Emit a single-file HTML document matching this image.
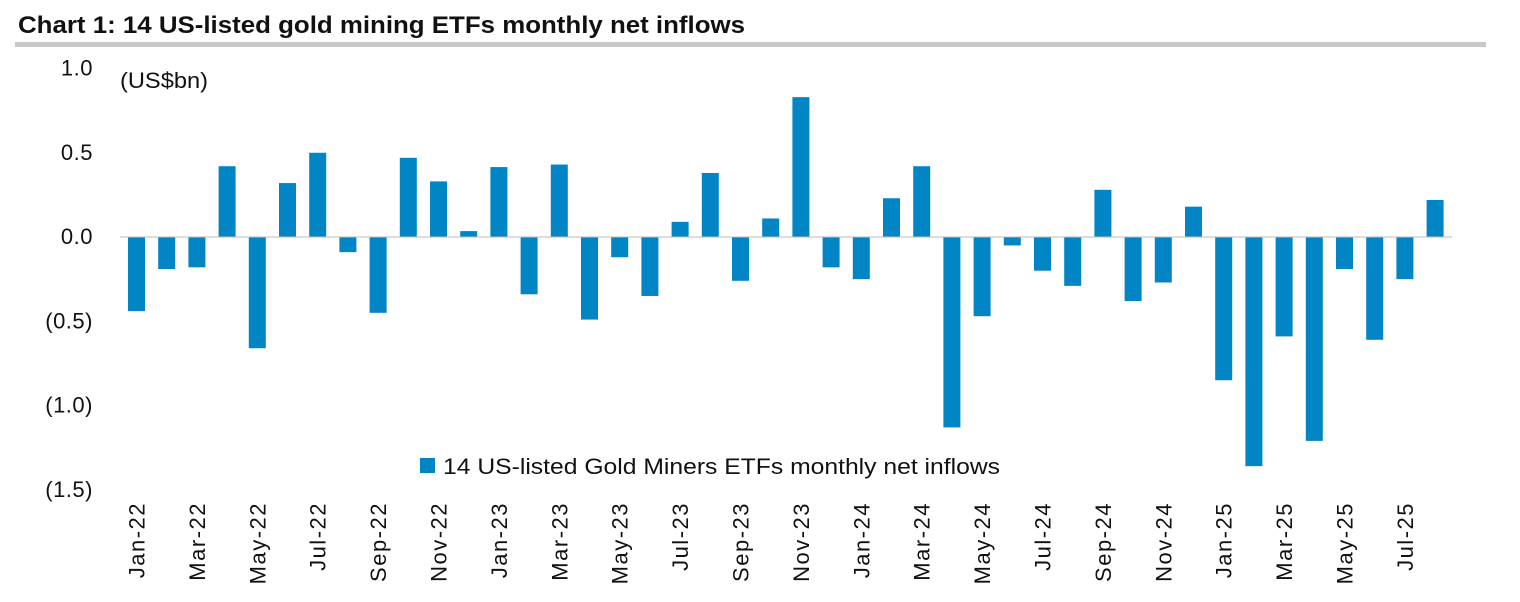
<!DOCTYPE html>
<html><head><meta charset="utf-8"><style>
body{margin:0;background:#fff;width:1520px;height:597px;overflow:hidden;font-family:"Liberation Sans",sans-serif}
</style></head><body>
<svg width="1520" height="597" xmlns="http://www.w3.org/2000/svg">
<text x="18" y="33" font-size="24" font-weight="bold" fill="#111" textLength="727" lengthAdjust="spacingAndGlyphs">Chart 1: 14 US-listed gold mining ETFs monthly net inflows</text>
<rect x="15" y="42" width="1471" height="5" fill="#c8c8c8"/>
<text x="120" y="88" font-size="22" fill="#111" textLength="88" lengthAdjust="spacingAndGlyphs">(US$bn)</text>
<g id="yaxis"></g><g id="bars"></g><g id="xaxis"></g>
<rect x="420" y="458" width="15" height="15" fill="#0285c4"/>
<text x="443" y="474" font-size="22" fill="#111" textLength="557" lengthAdjust="spacingAndGlyphs">14 US-listed Gold Miners ETFs monthly net inflows</text>
</svg>
<script>
const months=["Jan-22","Feb-22","Mar-22","Apr-22","May-22","Jun-22","Jul-22","Aug-22","Sep-22","Oct-22","Nov-22","Dec-22","Jan-23","Feb-23","Mar-23","Apr-23","May-23","Jun-23","Jul-23","Aug-23","Sep-23","Oct-23","Nov-23","Dec-23","Jan-24","Feb-24","Mar-24","Apr-24","May-24","Jun-24","Jul-24","Aug-24","Sep-24","Oct-24","Nov-24","Dec-24","Jan-25","Feb-25","Mar-25","Apr-25","May-25","Jun-25","Jul-25","Aug-25"];
const inflows=[-0.44,-0.19,-0.18,0.42,-0.66,0.32,0.50,-0.09,-0.45,0.47,0.33,0.035,0.415,-0.34,0.43,-0.49,-0.12,-0.35,0.09,0.38,-0.26,0.11,0.83,-0.18,-0.25,0.23,0.42,-1.13,-0.47,-0.05,-0.20,-0.29,0.28,-0.38,-0.27,0.18,-0.85,-1.36,-0.59,-1.21,-0.19,-0.61,-0.25,0.22];
const yTicks=[1.0,0.5,0.0,-0.5,-1.0,-1.5];
const yTickLabels=["1.0","0.5","0.0","(0.5)","(1.0)","(1.5)"];
const NS="http://www.w3.org/2000/svg";
const y=v=>237-v*168.5;
const x=i=>136.5+i*30.2;
const ya=document.getElementById('yaxis'),bg=document.getElementById('bars'),xa=document.getElementById('xaxis');
yTicks.forEach((t,i)=>{const e=document.createElementNS(NS,'text');


e.setAttribute('x',93);e.setAttribute('y',y(t)+7);e.setAttribute('font-size','22');e.setAttribute('letter-spacing','0.5');e.setAttribute('text-anchor','end');e.setAttribute('fill','#111');e.textContent=yTickLabels[i];ya.appendChild(e);});
inflows.forEach((v,i)=>{const r=document.createElementNS(NS,'rect');


r.setAttribute('x',x(i)-8.5);r.setAttribute('width',17);r.setAttribute('y',Math.min(y(v),y(0)));r.setAttribute('height',Math.abs(y(v)-y(0)));r.setAttribute('fill','#0285c4');bg.appendChild(r);});
const ax=document.createElementNS(NS,'line');


ax.setAttribute('x1',120);ax.setAttribute('x2',1452);ax.setAttribute('y1',y(0));ax.setAttribute('y2',y(0));ax.setAttribute('stroke','#bbb');ax.setAttribute('stroke-width','1');xa.appendChild(ax);
months.forEach((m,i)=>{if(i%2)return;const e=document.createElementNS(NS,'text');


const cx=x(i)+8,cy=502;e.setAttribute('x',cx);e.setAttribute('y',cy);e.setAttribute('font-size','22');e.setAttribute('letter-spacing','1.5');e.setAttribute('text-anchor','end');e.setAttribute('fill','#111');e.setAttribute('transform','rotate(-90 '+cx+' '+cy+')');e.textContent=m;xa.appendChild(e);});
</script></body></html>
